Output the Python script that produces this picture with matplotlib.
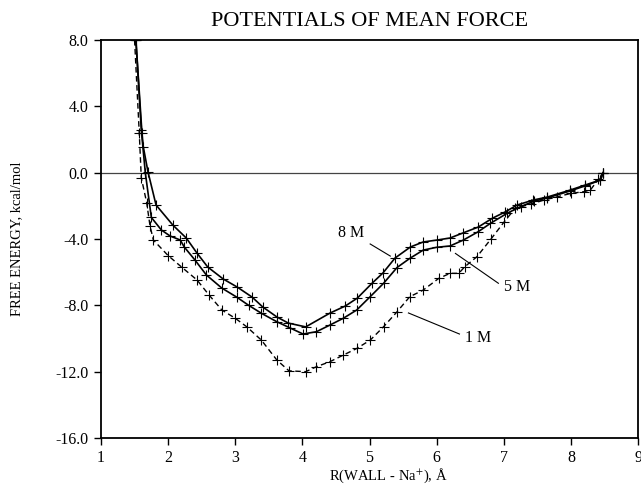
import matplotlib
matplotlib.use("Agg")
import matplotlib.pyplot as plt

plt.rcParams['font.family'] = ['Liberation Serif', 'DejaVu Serif']
plt.rcParams['mathtext.fontset'] = 'stix'
plt.rcParams['axes.unicode_minus'] = False

# ---- data ----
x_8m = [1.52, 1.61, 1.63, 1.70, 1.82, 2.07, 2.27, 2.43, 2.59, 2.82, 3.03, 3.25, 3.41,
        3.62, 3.79, 4.05, 4.41, 4.64, 4.82, 5.04, 5.20, 5.38, 5.61, 5.80, 6.01, 6.20,
        6.39, 6.62, 6.83, 7.02, 7.20, 7.44, 7.65, 7.99, 8.21, 8.44, 8.48]
y_8m = [8.0, 2.4, 1.56, 0.05, -1.95, -3.16, -3.94, -4.85, -5.69, -6.41, -6.9, -7.5, -8.1,
        -8.7, -9.07, -9.3, -8.47, -8.04, -7.56, -6.66, -6.05, -5.15, -4.48, -4.18, -4.06, -3.94,
        -3.64, -3.28, -2.75, -2.37, -1.95, -1.65, -1.47, -1.05, -0.75, -0.44, 0.0]

x_5m = [1.52, 1.60, 1.66, 1.75, 1.90, 2.03, 2.18, 2.24, 2.40, 2.57, 2.80, 3.02, 3.20,
        3.39, 3.62, 3.82, 4.01, 4.21, 4.41, 4.61, 4.81, 5.01, 5.21, 5.41, 5.60, 5.80,
        6.00, 6.20, 6.40, 6.62, 6.80, 7.05, 7.25, 7.45, 7.65, 7.99, 8.21, 8.44, 8.48]
y_5m = [8.0, 2.6, 0.0, -2.7, -3.46, -3.82, -4.06, -4.48, -5.27, -6.17, -6.96, -7.5, -8.0,
        -8.48, -8.99, -9.37, -9.73, -9.59, -9.19, -8.78, -8.28, -7.48, -6.67, -5.72, -5.17, -4.67,
        -4.5, -4.42, -4.06, -3.56, -3.06, -2.45, -2.05, -1.72, -1.52, -1.1, -0.8, -0.45, 0.0]

x_1m = [1.50, 1.57, 1.60, 1.68, 1.73, 1.78, 2.00, 2.20, 2.43, 2.61, 2.80, 3.00, 3.17,
        3.39, 3.62, 3.80, 4.05, 4.21, 4.41, 4.61, 4.81, 5.01, 5.21, 5.41, 5.60, 5.80,
        6.03, 6.20, 6.33, 6.42, 6.60, 6.81, 7.00, 7.17, 7.40, 7.60, 7.80, 8.00, 8.19,
        8.29, 8.41, 8.48]
y_1m = [8.0, 2.4, -0.3, -1.8, -3.2, -4.06, -5.0, -5.69, -6.47, -7.38, -8.28, -8.78, -9.29,
        -10.1, -11.3, -11.95, -12.0, -11.7, -11.4, -11.0, -10.6, -10.1, -9.29, -8.39, -7.48, -7.08,
        -6.38, -6.07, -6.07, -5.67, -5.07, -4.0, -3.0, -2.15, -1.9, -1.65, -1.45, -1.25, -1.15,
        -1.05, -0.4, 0.0]

x_ticks = [1, 2, 3, 4, 5, 6, 7, 8, 9]
y_ticks = [-16.0, -12.0, -8.0, -4.0, 0.0, 4.0, 8.0]

labels = ['8 M', '5 M', '1 M']
label_pos = [(4.73, -3.66), (7.20, -6.90), (6.62, -9.97)]
leader_start = [(5.01, -4.30), (6.28, -4.87), (5.58, -8.46)]
leader_end = [(5.31, -5.03), (6.92, -6.67), (6.34, -9.73)]

# ---- figure ----
fig = plt.figure(figsize=(6.41, 4.87), dpi=100)
ax = fig.add_axes([101/641, 1-438/487, 537/641, 398/487])

ax.axhline(0, color='#444444', lw=0.9, zorder=1)

mk = dict(marker='+', markersize=7, markeredgewidth=0.8, color='black')
ax.plot(x_8m, y_8m, linestyle='-', lw=1.2, **mk)
ax.plot(x_5m, y_5m, linestyle='-', lw=1.2, **mk)
ax.plot(x_1m, y_1m, linestyle=(0, (4, 2.5)), lw=1.0, **mk)

for lab, (tx, ty), (sx, sy), (ex, ey) in zip(labels, label_pos, leader_start, leader_end):
    ax.plot([sx, ex], [sy, ey], color='black', lw=0.8)
    ax.text(tx, ty, lab, ha='center', va='center', fontsize=11.5)

ax.set_xlim(1, 9)
ax.set_ylim(-16, 8)
ax.set_xticks(x_ticks)
ax.set_xticklabels([str(t) for t in x_ticks])
ax.set_yticks(y_ticks)
ax.set_yticklabels([f"{t:.1f}" for t in y_ticks])
ax.tick_params(direction='out', length=5, width=1.0, labelsize=11.5, pad=4)

for s in ax.spines.values():
    s.set_linewidth(1.3)
    s.set_color('black')

ax.set_title('POTENTIALS OF MEAN FORCE', fontsize=16, pad=10)
ax.set_ylabel('FREE ENERGY, kcal/mol', fontsize=10.5)
ax.yaxis.set_label_coords(-0.145, 0.5)
ax.set_xlabel(r'R(WALL - Na$^{+}$), Å', fontsize=10.5)
ax.xaxis.set_label_coords(0.535, -0.073)

fig.savefig('out.png', dpi=100)
